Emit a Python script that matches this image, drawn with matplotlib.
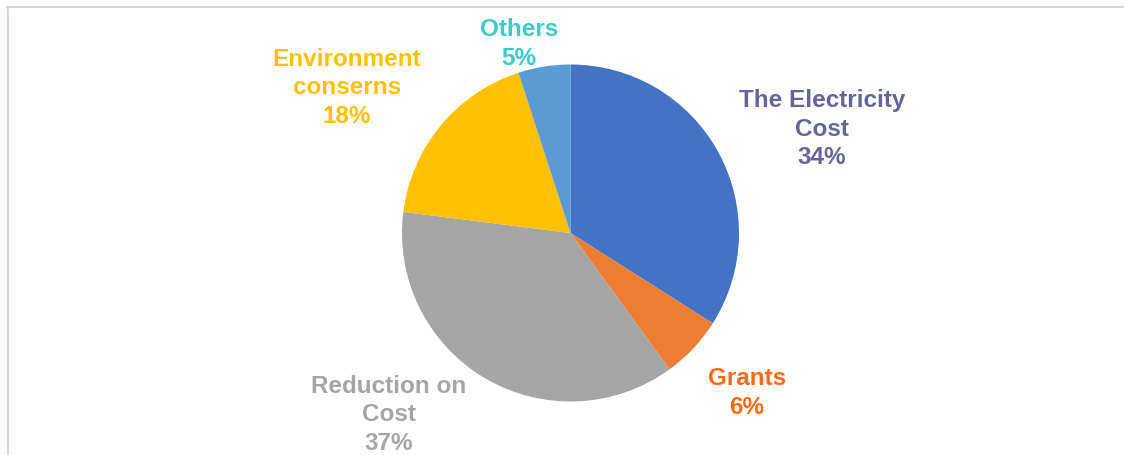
import matplotlib.pyplot as plt
from matplotlib.lines import Line2D

# Donnees du graphique
categories = ["The Electricity\nCost", "Grants", "Reduction on\nCost", "Environment\nconserns", "Others"]
valeurs = [34, 6, 37, 18, 5]

# Couleurs (secteurs et textes)
couleurs = ["#4472C4", "#ED7D31", "#A5A5A5", "#FFC000", "#5B9BD5"]
couleurs_texte = ["#65659C", "#FF6A10", "#A5A5A5", "#FFC000", "#3CCBCB"]

# Mise en page en pixels (origine en bas a gauche)
W, H = 1124, 456
CENTRE = (570.5, H - 234)
RAYON = 168.5
positions_labels = [(822, H - 129), (747, H - 393), (389, H - 415), (347, H - 88), (519, H - 44)]

plt.rcParams['font.family'] = ['Liberation Sans', 'DejaVu Sans']

fig = plt.figure(figsize=(W / 100, H / 100), dpi=100)
ax = fig.add_axes([0, 0, 1, 1])

ax.pie(valeurs, colors=couleurs, startangle=90, counterclock=False,
       center=CENTRE, radius=RAYON, frame=True,
       wedgeprops={'linewidth': 0})
ax.set_xlim(0, W)
ax.set_ylim(0, H)
ax.set_aspect('equal')
ax.axis('off')

for cat, val, col, (x, y) in zip(categories, valeurs, couleurs_texte, positions_labels):
    ax.text(x, y, f"{cat}\n{val}%", color=col, fontsize=17.5, fontweight='bold',
            ha='center', va='center', linespacing=1.33)

# Cadre gris clair (haut et gauche)
fig.add_artist(Line2D([7.5 / W, 7.5 / W], [0, (H - 8) / H], transform=fig.transFigure,
                      color="#D9D9D9", linewidth=1.5))
fig.add_artist(Line2D([7 / W, 1], [(H - 8) / H, (H - 8) / H], transform=fig.transFigure,
                      color="#D9D9D9", linewidth=1.5))

fig.savefig("out.png", dpi=100)
